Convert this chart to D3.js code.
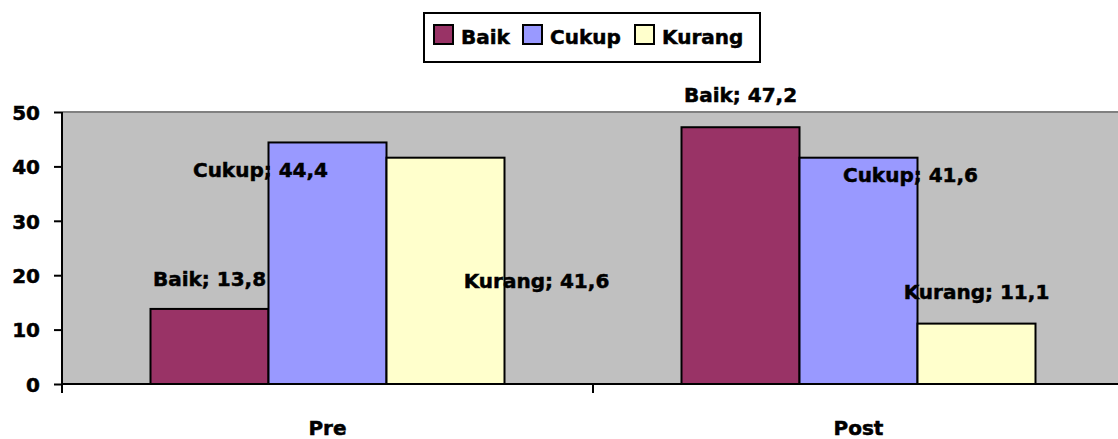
<!DOCTYPE html>
<html>
<head>
<meta charset="utf-8">
<script src="https://cdn.jsdelivr.net/npm/d3@7"></script>
<style>
    body { margin: 0; background: #ffffff; }
    text { font-family: "DejaVu Sans", sans-serif; font-weight: bold; font-size: 20px; fill: #000000; stroke: #000000; stroke-width: 0.5px; }
</style>
</head>
<body>
<div id="chart"></div>
<script>
// data
const categories = ["Pre", "Post"]
const seriesNames = ["Baik", "Cukup", "Kurang"]
const baikValues = [13.8, 47.2]
const cukupValues = [44.4, 41.6]
const kurangValues = [41.6, 11.1]
const yTicks = [0, 10, 20, 30, 40, 50]

const colors = ["#993366", "#9999ff", "#ffffcc"]
// label offsets from bar top centre (dx, dy to baseline), labels were dragged by hand in the original
const labelOffsets = [
    [[0, -23], [-67, 35], [91, 130]],
    [[0, -25], [52, 24], [0, -25]]
]

var width = 1118
var height = 439
var margin = { top: 112, right: -6, bottom: 55, left: 62 }

var svg = d3.select("#chart")
    .append("svg")
    .attr("width", width)
    .attr("height", height)

var plotW = width - margin.left - margin.right
var plotH = height - margin.top - margin.bottom

var g = svg.append("g")
    .attr("transform", "translate(" + margin.left + "," + margin.top + ")")

var x0 = d3.scaleBand()
    .domain(categories)
    .range([0, plotW])
    .padding(0)

var x1 = d3.scaleBand()
    .domain(seriesNames)
    .range([0, x0.bandwidth()])
    .paddingInner(0)
    .paddingOuter(0.75)

var y = d3.scaleLinear()
    .domain([0, 50])
    .range([plotH, 0])

// plot background
g.append("rect")
    .attr("x", 0)
    .attr("y", 0)
    .attr("width", plotW)
    .attr("height", plotH)
    .style("fill", "#c0c0c0")

g.append("line")
    .attr("x1", 0).attr("x2", plotW)
    .attr("y1", y(50)).attr("y2", y(50))
    .style("stroke", "#808080")
    .style("stroke-width", 2)

// rows of the table
const rows = categories.map((c, i) => ({
    category: c,
    values: [baikValues[i], cukupValues[i], kurangValues[i]]
}))

var groups = g.selectAll(".group")
    .data(rows)
    .enter().append("g")
    .attr("class", "group")
    .attr("transform", d => "translate(" + x0(d.category) + ",0)")

groups.selectAll("rect")
    .data(d => d.values.map((v, j) => ({ name: seriesNames[j], value: v, j: j })))
    .enter().append("rect")
    .attr("x", d => x1(d.name))
    .attr("y", d => y(d.value))
    .attr("width", x1.bandwidth())
    .attr("height", d => plotH - y(d.value))
    .style("fill", d => colors[d.j])
    .style("stroke", "#000000")
    .style("stroke-width", 2)

// axes
var yAxis = g.append("g")
    .call(d3.axisLeft(y).tickValues(yTicks).tickSize(8).tickPadding(14).tickSizeOuter(0))
yAxis.select(".domain").remove()
yAxis.selectAll(".tick line").style("stroke", "#000").style("stroke-width", 2)
yAxis.selectAll(".tick text")
    .style("font-family", "DejaVu Sans")
    .style("font-weight", "bold")
    .style("font-size", "20px")
    .attr("dy", "0.36em")

g.append("line")
    .attr("x1", 0).attr("x2", 0)
    .attr("y1", 0).attr("y2", plotH + 9)
    .style("stroke", "#000").style("stroke-width", 2)

g.append("line")
    .attr("x1", 0).attr("x2", plotW)
    .attr("y1", plotH).attr("y2", plotH)
    .style("stroke", "#000").style("stroke-width", 2)

g.selectAll(".xtick")
    .data(categories.slice(1).concat(["end"]))
    .enter().append("line")
    .attr("x1", d => d == "end" ? plotW : x0(d))
    .attr("x2", d => d == "end" ? plotW : x0(d))
    .attr("y1", plotH)
    .attr("y2", plotH + 9)
    .style("stroke", "#000").style("stroke-width", 2)

g.selectAll(".xlabel")
    .data(categories)
    .enter().append("text")
    .attr("x", d => x0(d) + x0.bandwidth() / 2)
    .attr("y", plotH + 51)
    .style("text-anchor", "middle")
    .text(d => d)

// data labels
groups.selectAll(".label")
    .data((d, i) => d.values.map((v, j) => ({ name: seriesNames[j], value: v, off: labelOffsets[i][j] })))
    .enter().append("text")
    .attr("class", "label")
    .attr("x", d => x1(d.name) + x1.bandwidth() / 2 + d.off[0])
    .attr("y", d => y(d.value) + d.off[1])
    .style("text-anchor", "middle")
    .text(d => d.name + "; " + String(d.value).replace(".", ","))

// legend
var legend = svg.append("g")
    .attr("transform", "translate(424,13)")

legend.append("rect")
    .attr("width", 336)
    .attr("height", 49)
    .style("fill", "#ffffff")
    .style("stroke", "#000")
    .style("stroke-width", 2)

const legendX = [10, 99, 211]
var items = legend.selectAll(".item")
    .data(seriesNames)
    .enter().append("g")
    .attr("transform", (d, i) => "translate(" + legendX[i] + ",12)")

items.append("rect")
    .attr("width", 19)
    .attr("height", 19)
    .style("fill", (d, i) => colors[i])
    .style("stroke", "#000")
    .style("stroke-width", 2)

items.append("text")
    .attr("x", 27)
    .attr("y", 19)
    .text(d => d)
</script>
</body>
</html>
